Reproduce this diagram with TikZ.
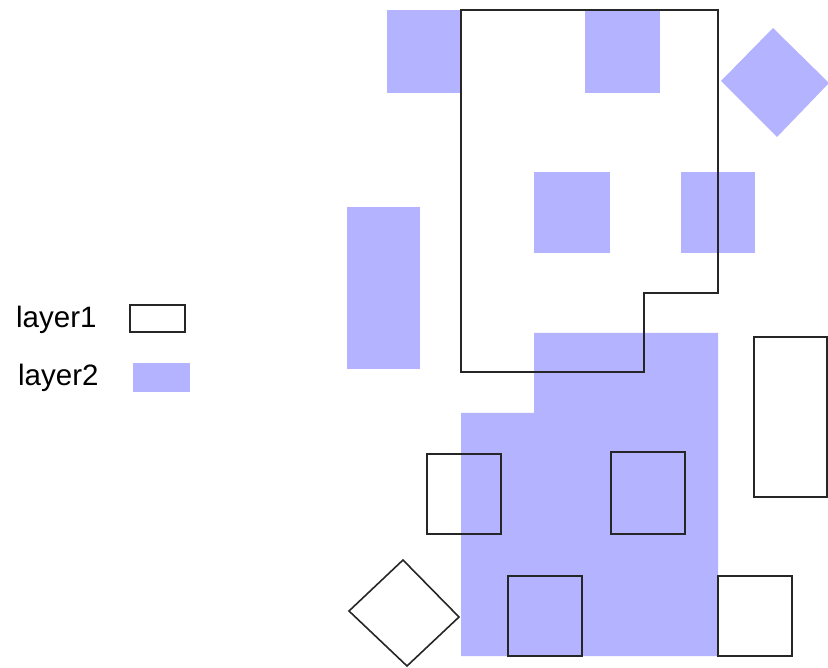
\documentclass[tikz,border=0pt]{standalone}
\usepackage{fontspec}
\setmainfont{Liberation Sans}
\definecolor{lay2}{RGB}{179,179,255}
\begin{document}
\begin{tikzpicture}[x=1pt,y=-1pt,
  l1/.style={draw=black!85,line width=1.6pt,line join=miter},
  l2/.style={fill=lay2,draw=none},
  lbl/.style={font=\fontsize{29.5}{31}\selectfont,inner sep=0pt,anchor=base west}]
\useasboundingbox (0,0) rectangle (828,668);
% layer2 (blue)
\fill[l2] (387,10) rectangle (461,93);
\fill[l2] (585,10) rectangle (660,93);
\fill[l2] (721,81) -- (773,28) -- (829,83) -- (777,137) -- cycle;
\fill[l2] (534,172) rectangle (610,253);
\fill[l2] (681,172) rectangle (755,253);
\fill[l2] (347,207) rectangle (420,369);
\fill[l2] (534,333) -- (718,333) -- (718,656) -- (461,656) -- (461,413) -- (534,413) -- cycle;
% layer1 (outline)
\draw[l1] (461,10) -- (718,10) -- (718,293) -- (644,293) -- (644,372) -- (461,372) -- cycle;
\draw[l1] (427,454) rectangle (501,534);
\draw[l1] (611,452) rectangle (685,534);
\draw[l1] (754,337) rectangle (827,497);
\draw[l1] (508,576) rectangle (582,656);
\draw[l1] (718,576) rectangle (792,656);
\draw[l1] (349,611) -- (403,560) -- (459,617) -- (407,666) -- cycle;
% legend
\node[lbl] (t1) at (16,328) {layer1};
\node[lbl] (t2) at (18,386) {layer2};
\draw[l1,line width=1.2pt] (130,305) rectangle (185,332);
\fill[l2] (133,363) rectangle (190,392);
\end{tikzpicture}
\end{document}
